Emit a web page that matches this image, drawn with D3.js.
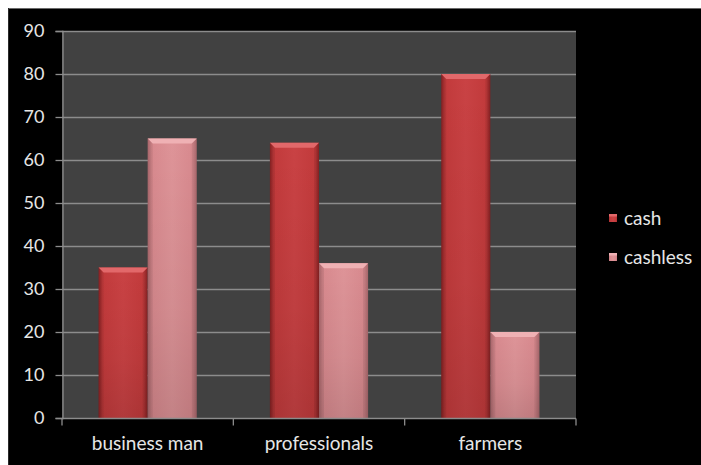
<!DOCTYPE html>
<html>
<head>
<meta charset="utf-8">
<script src="https://cdn.jsdelivr.net/npm/d3@7"></script>
<style>
  html, body { margin: 0; padding: 0; background: #fff; }
  svg { display: block; }
  text { font-family: Lato, "Open Sans", "DejaVu Sans", sans-serif; }
</style>
</head>
<body>
<svg id="chart" width="701" height="465"></svg>
<script>
// Payment preference by occupation
const categories = ["business man", "professionals", "farmers"];
const seriesNames = ["cash", "cashless"];
const cashValues = [35, 64, 80];
const cashlessValues = [65, 36, 20];
const yTicks = [0, 10, 20, 30, 40, 50, 60, 70, 80, 90];

const W = 701, H = 465;
const plot = { left: 62, right: 576, top: 31, bottom: 418 };

const svg = d3.select("#chart");
const defs = svg.append("defs");

// Outer frame: black panel with a thin grey edge along the top
svg.append("rect").attr("x", 8).attr("y", 8).attr("width", W - 8).attr("height", H - 8).attr("fill", "#000");
svg.append("line").attr("x1", 8).attr("x2", W).attr("y1", 8.5).attr("y2", 8.5).attr("stroke", "#6a6a6a");
svg.append("line").attr("x1", 8.5).attr("x2", 8.5).attr("y1", 8).attr("y2", H).attr("stroke", "#2a2a2a");

const x0 = d3.scaleBand().domain(categories).range([plot.left, plot.right]).paddingInner(0).paddingOuter(0);
const x1 = d3.scaleBand().domain(seriesNames).range([0, x0.bandwidth()]).paddingInner(0).paddingOuter(0.745);
const y = d3.scaleLinear().domain([0, 90]).range([plot.bottom, plot.top]);

// Plot area
svg.append("rect")
  .attr("x", plot.left).attr("y", plot.top)
  .attr("width", plot.right - plot.left).attr("height", plot.bottom - plot.top)
  .attr("fill", "#414141");

// Gridlines
svg.append("g").selectAll("line").data(yTicks.filter(d => d > 0)).join("line")
  .attr("x1", plot.left).attr("x2", plot.right)
  .attr("y1", d => Math.round(y(d)) + 0.5).attr("y2", d => Math.round(y(d)) + 0.5)
  .attr("stroke", "#8c8c8c").attr("stroke-width", 1.3);

// Bar fills: horizontal shading with darker edges
const palettes = {
  cash: { edge: "#8e2325", mid: "#c23a3b", hi: "#c94244", bevel: "#e2686a" },
  cashless: { edge: "#b56f74", mid: "#d8898e", hi: "#de9498", bevel: "#efb1b4" }
};
seriesNames.forEach(s => {
  const p = palettes[s];
  const g = defs.append("linearGradient").attr("id", "grad-" + s).attr("x1", 0).attr("x2", 1).attr("y1", 0).attr("y2", 0);
  [[0, p.edge], [0.08, p.mid], [0.5, p.hi], [0.92, p.mid], [1, p.edge]].forEach(([o, c]) =>
    g.append("stop").attr("offset", o).attr("stop-color", c));
  const v = defs.append("linearGradient").attr("id", "vgrad-" + s).attr("x1", 0).attr("x2", 0).attr("y1", 0).attr("y2", 1);
  [[0, "#000", 0], [0.6, "#000", 0.05], [1, "#000", 0.12]].forEach(([o, c, a]) =>
    v.append("stop").attr("offset", o).attr("stop-color", c).attr("stop-opacity", a));
});

const rows = categories.map((c, i) => ({ category: c, values: [
  { series: "cash", value: cashValues[i] },
  { series: "cashless", value: cashlessValues[i] }
]}));

const bevel = 5;
const groups = svg.append("g").selectAll("g").data(rows).join("g")
  .attr("transform", d => `translate(${x0(d.category)},0)`);

const bars = groups.selectAll("g").data(d => d.values).join("g");
bars.append("rect")
  .attr("x", d => x1(d.series)).attr("y", d => y(d.value))
  .attr("width", x1.bandwidth()).attr("height", d => y(0) - y(d.value))
  .attr("fill", d => `url(#grad-${d.series})`);
bars.append("rect")
  .attr("x", d => x1(d.series)).attr("y", d => y(d.value))
  .attr("width", x1.bandwidth()).attr("height", d => y(0) - y(d.value))
  .attr("fill", d => `url(#vgrad-${d.series})`);
// Bevelled top edge
bars.append("path")
  .attr("d", d => {
    const xl = x1(d.series), xr = xl + x1.bandwidth(), yt = y(d.value);
    return `M${xl},${yt} L${xr},${yt} L${xr - bevel},${yt + bevel} L${xl + bevel},${yt + bevel} Z`;
  })
  .attr("fill", d => palettes[d.series].bevel);
bars.append("path")
  .attr("d", d => {
    const xl = x1(d.series), xr = xl + x1.bandwidth(), yt = y(d.value);
    return `M${xl},${yt} L${xl + bevel},${yt + bevel} L${xl + bevel},${y(0)} L${xl},${y(0)} Z M${xr},${yt} L${xr - bevel},${yt + bevel} L${xr - bevel},${y(0)} L${xr},${y(0)} Z`;
  })
  .attr("fill", "#000").attr("opacity", 0.08);

// Y axis
const yAxis = svg.append("g").attr("transform", `translate(${plot.left + 0.5},0)`)
  .call(d3.axisLeft(y).tickValues(yTicks).tickSize(7).tickPadding(11));
yAxis.select(".domain").attr("stroke", "#8c8c8c").attr("stroke-width", 1.3);
yAxis.selectAll(".tick line").attr("stroke", "#8c8c8c").attr("stroke-width", 1.3);
yAxis.selectAll(".tick text").attr("fill", "#e6e6e6").style("font-size", "18px");

// X axis: ticks at category boundaries
const xAxis = svg.append("g").attr("transform", `translate(0,${plot.bottom + 0.5})`);
xAxis.append("line").attr("x1", plot.left).attr("x2", plot.right).attr("stroke", "#8c8c8c").attr("stroke-width", 1.3);
const bounds = categories.map(c => x0(c)).concat([x0(categories[categories.length - 1]) + x0.bandwidth()]);
xAxis.selectAll(".bt").data(bounds).join("line").attr("class", "bt")
  .attr("x1", d => d).attr("x2", d => d).attr("y1", 0).attr("y2", 7)
  .attr("stroke", "#8c8c8c").attr("stroke-width", 1.3);
xAxis.selectAll("text").data(categories).join("text")
  .attr("x", d => x0(d) + x0.bandwidth() / 2).attr("y", 31)
  .attr("text-anchor", "middle").attr("fill", "#e6e6e6").style("font-size", "19px")
  .text(d => d);

// Legend
const legend = svg.append("g").attr("transform", "translate(609,218)");
const li = legend.selectAll("g").data(seriesNames).join("g")
  .attr("transform", (d, i) => `translate(0,${i * 39})`);
li.append("rect").attr("x", 0).attr("y", -4).attr("width", 8).attr("height", 8)
  .attr("fill", d => `url(#grad-${d})`);
li.append("rect").attr("x", 0).attr("y", -4).attr("width", 8).attr("height", 2.5)
  .attr("fill", d => palettes[d].bevel);
li.append("text").attr("x", 15).attr("y", 6.5).attr("fill", "#e6e6e6").style("font-size", "19px").text(d => d);
</script>
</body>
</html>
